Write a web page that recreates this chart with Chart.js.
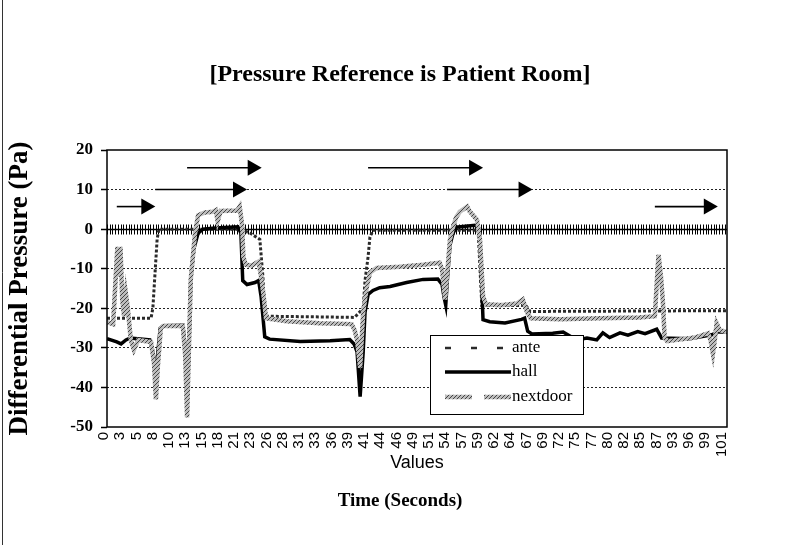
<!DOCTYPE html>
<html>
<head>
<meta charset="utf-8">
<title>Pressure Reference is Patient Room</title>
<script src="https://cdn.jsdelivr.net/npm/chart.js@4.4.0/dist/chart.umd.min.js"></script>
<style>
  html, body { margin: 0; padding: 0; background: #fff; }
  #wrap { width: 800px; height: 545px; }
</style>
</head>
<body>
<div id="wrap"><canvas id="pressureChart" width="800" height="545"></canvas></div>
<script>
// category labels printed under the plot, evenly spaced
const timeLabels = ["0", "3", "5", "8", "10", "13", "15", "18", "21", "23", "26", "28", "31",
  "33", "36", "39", "41", "44", "46", "49", "51", "54", "57", "59", "62", "64", "67", "69",
  "72", "75", "77", "80", "82", "85", "87", "93", "96", "99", "101"];
const yTicks = [20, 10, 0, -10, -20, -30, -40, -50];

// traces: time (s, on the label scale) and pressure (Pa)
const anteT = [0, 7.2, 7.5, 7.7, 7.9, 8.2, 8.5, 21.7, 23.4, 25.0, 25.5, 25.8, 40.5, 41.9,
  42.2, 42.7, 43.0, 43.5, 60.7, 61.3, 68.5, 69.2, 101.4];
const anteP = [-22.5, -22.5, -20, -15, -10, -2.5, 0, 0, -1, -2.6, -12, -22, -22.3, -20,
  -13, -7, -2, -0.3, -0.3, -19.3, -19.3, -20.8, -20.6];

const hallT = [0, 1.6, 2.3, 3.1, 3.8, 7.0, 7.5, 7.9, 8.2, 8.7, 9.2, 12.4, 12.8, 13.1, 13.4,
  13.7, 14.2, 14.9, 15.7, 17.7, 21.4, 21.9, 22.2, 22.9, 24.2, 24.8, 25.2, 25.8, 26.6, 31.6,
  36.5, 39.7, 40.4, 40.9, 41.4, 41.9, 42.2, 42.7, 43.5, 44.6, 46.3, 49.0, 51.7, 54.1, 54.8,
  55.1, 55.4, 55.7, 56.1, 56.6, 57.1, 60.2, 60.7, 61.0, 61.5, 62.6, 65.1, 67.8, 68.3, 68.8,
  69.5, 72.9, 74.6, 76.8, 78.5, 80.1, 81.1, 82.2, 83.9, 85.2, 86.8, 88.0, 89.9, 90.7, 95.3,
  98.9, 99.9, 101.4];
const hallP = [-27.7, -28.5, -29, -28, -27.5, -28, -31, -35.5, -33, -25, -24.4, -24.3, -30,
  -44, -30, -12.7, -5, -1, 0, 0.3, 0.6, -1, -13, -14, -13.5, -13, -17, -27.2, -27.8, -28.4,
  -28.2, -27.9, -29, -31, -42.3, -31, -21, -16.5, -15.5, -14.8, -14.5, -13.5, -12.7, -12.6,
  -14, -17, -19.2, -12, -4, -1, 0.5, 1, 0.5, -2.6, -22.9, -23.4, -23.7, -22.8, -22.5, -25.8,
  -26.5, -26.3, -26, -28, -27.5, -28, -26.2, -27.4, -26.2, -26.8, -25.9, -26.4, -25.3, -27.5,
  -27.7, -26.7, -26, -26];

const nextdoorT = [0, 1.0, 1.5, 1.7, 2.0, 2.2, 2.5, 2.8, 3.1, 3.4, 3.9, 4.4, 5.1, 7.2, 7.7,
  8.0, 8.3, 8.8, 9.2, 12.4, 12.8, 13.1, 13.4, 13.7, 14.4, 14.9, 16.0, 17.3, 17.8, 18.1, 18.6,
  21.3, 21.7, 22.1, 22.3, 22.7, 23.7, 24.8, 25.3, 25.7, 26.0, 29.4, 34.8, 40.0, 40.5, 40.9,
  41.4, 41.9, 42.5, 43.0, 44.1, 47.9, 51.7, 54.4, 54.8, 55.3, 55.6, 56.1, 56.6, 57.1, 57.7,
  58.9, 59.3, 60.5, 61.0, 61.5, 62.0, 64.3, 67.0, 68.0, 68.7, 69.3, 74.1, 80.6, 87.1, 89.6,
  89.9, 90.2, 90.6, 90.9, 91.2, 91.6, 96.1, 98.3, 98.7, 99.1, 99.4, 99.7, 100.2, 101.4];
const nextdoorP = [-23.5, -24, -10, -4.5, -12, -4.5, -18, -22, -16.5, -20, -28, -30.5, -28,
  -28.5, -34, -43, -35, -25, -24.5, -24.5, -32, -47.6, -30, -12.7, -1, 3.5, 4.2, 4.4, 4.8, 2,
  4.6, 4.7, 5.7, 1, -7, -9, -9.2, -8.2, -13, -18, -22.5, -23.3, -23.8, -24, -25.5, -28, -35,
  -21, -14.5, -11, -9.8, -9.5, -9, -8.5, -10.2, -17.8, -12, -2.6, 0.6, 3, 4.4, 5.7, 4.5, 2.4,
  -2.6, -17, -19, -19.2, -18.8, -17.8, -21, -22.5, -22.8, -22.5, -22.3, -22, -14, -6.5, -12,
  -18, -27.5, -28.3, -27.4, -26.3, -28, -31.5, -28, -23.8, -25.5, -26];

// arrows drawn over the plot: start time, end time, level (Pa)
const arrowFrom = [1.6, 7.9, 13.1, 42.7, 55.6, 89.6];
const arrowTo = [7.9, 22.9, 25.3, 61.5, 69.6, 99.9];
const arrowLevel = [5.7, 10, 15.5, 15.5, 10, 5.7];

const SERIF = "'Liberation Serif', 'Times New Roman', serif";
const SANS = "'Liberation Sans', Arial, sans-serif";
const X_MAX = 101.4;
const LABEL_STEP = 101 / (timeLabels.length - 1);

function toPoints(ts, ps) {
  return ts.map((t, i) => ({ x: t, y: ps[i] }));
}

// grey speckled stroke like the printed "nextdoor" line
function hatchPattern() {
  const c = document.createElement("canvas");
  c.width = 4;
  c.height = 4;
  const g = c.getContext("2d");
  g.fillStyle = "#bdbdbd";
  g.fillRect(0, 0, 4, 4);
  g.fillStyle = "#444";
  for (let i = 0; i < 4; i++) g.fillRect(i, 3 - i, 1, 1);
  return g.createPattern(c, "repeat");
}
const hatch = hatchPattern();

// plot frame and the category axis crossing at 0 with its dense tick marks
const framePlugin = {
  id: "frame",
  beforeDatasetsDraw(chart) {
    const { ctx, chartArea: a, scales } = chart;
    const y0 = Math.round(scales.y.getPixelForValue(0)) + 0.5;
    ctx.save();
    ctx.strokeStyle = "#000";
    ctx.lineWidth = 1.5;
    ctx.beginPath();
    ctx.moveTo(a.left, y0);
    ctx.lineTo(a.right, y0);
    ctx.stroke();
    ctx.lineWidth = 1;
    ctx.beginPath();
    for (let t = 0; t <= X_MAX; t += LABEL_STEP / 6) {
      const x = Math.round(scales.x.getPixelForValue(t)) + 0.5;
      ctx.moveTo(x, y0 - 5);
      ctx.lineTo(x, y0 + 5);
    }
    ctx.stroke();
    ctx.restore();
  },
  afterDatasetsDraw(chart) {
    const { ctx, chartArea: a } = chart;
    ctx.save();
    ctx.strokeStyle = "#000";
    ctx.lineWidth = 1.5;
    ctx.strokeRect(a.left, a.top, a.right - a.left, a.bottom - a.top);
    ctx.restore();
  },
  afterDraw(chart) {
    // edge of the scanned chart object on the left
    const { ctx, height } = chart;
    ctx.save();
    ctx.strokeStyle = "#333";
    ctx.lineWidth = 1;
    ctx.beginPath();
    ctx.moveTo(2.5, 0);
    ctx.lineTo(2.5, height);
    ctx.stroke();
    ctx.restore();
  }
};

const arrowPlugin = {
  id: "arrows",
  afterDatasetsDraw(chart) {
    const { ctx, scales } = chart;
    ctx.save();
    ctx.strokeStyle = "#000";
    ctx.fillStyle = "#000";
    ctx.lineWidth = 1.6;
    arrowFrom.forEach((t0, i) => {
      const x0 = scales.x.getPixelForValue(t0);
      const x1 = scales.x.getPixelForValue(arrowTo[i]);
      const y = scales.y.getPixelForValue(arrowLevel[i]);
      ctx.beginPath();
      ctx.moveTo(x0, y);
      ctx.lineTo(x1 - 13, y);
      ctx.stroke();
      ctx.beginPath();
      ctx.moveTo(x1, y);
      ctx.lineTo(x1 - 14, y - 8);
      ctx.lineTo(x1 - 14, y + 8);
      ctx.closePath();
      ctx.fill();
    });
    ctx.restore();
  }
};

// boxed legend sitting inside the plot, as in the printout
const boxLegendPlugin = {
  id: "boxLegend",
  afterDraw(chart) {
    const { ctx } = chart;
    const left = 430.5, top = 335.5, w = 153, h = 79;
    ctx.save();
    ctx.fillStyle = "#fff";
    ctx.fillRect(left, top, w, h);
    ctx.strokeStyle = "#000";
    ctx.lineWidth = 1;
    ctx.strokeRect(left, top, w, h);
    ctx.font = "17px " + SERIF;
    ctx.textBaseline = "middle";
    const rows = [348, 372, 397];
    chart.data.datasets.forEach((ds, i) => {
      const y = rows[i];
      ctx.strokeStyle = ds.borderColor;
      ctx.lineWidth = ds.borderWidth;
      if (i === 0) {
        ctx.lineWidth = 2.5;
        [448, 474, 500].forEach(x => {
          ctx.beginPath();
          ctx.moveTo(x - 3, y);
          ctx.lineTo(x + 3, y);
          ctx.stroke();
        });
      } else if (i === 2) {
        ctx.beginPath();
        ctx.moveTo(445, y);
        ctx.lineTo(472, y);
        ctx.moveTo(484, y);
        ctx.lineTo(511, y);
        ctx.stroke();
      } else {
        ctx.beginPath();
        ctx.moveTo(445, y);
        ctx.lineTo(511, y);
        ctx.stroke();
      }
      ctx.fillStyle = "#000";
      ctx.fillText(ds.label, 512, y);
    });
    ctx.restore();
  }
};

const ctx = document.getElementById("pressureChart").getContext("2d");
const chart = new Chart(ctx, {
  type: "line",
  data: {
    datasets: [
      {
        label: "ante",
        data: toPoints(anteT, anteP),
        borderColor: "#2a2a2a",
        borderWidth: 3,
        borderDash: [3, 2],
        pointRadius: 0,
        order: 3
      },
      {
        label: "hall",
        data: toPoints(hallT, hallP),
        borderColor: "#000",
        borderWidth: 3.5,
        pointRadius: 0,
        order: 2
      },
      {
        label: "nextdoor",
        data: toPoints(nextdoorT, nextdoorP),
        borderColor: hatch,
        borderWidth: 4.5,
        pointRadius: 0,
        order: 1
      }
    ]
  },
  options: {
    responsive: false,
    animation: false,
    events: [],
    layout: { padding: 0 },
    plugins: {
      legend: { display: false },
      tooltip: { enabled: false },
      title: {
        display: true,
        text: "[Pressure Reference is Patient Room]",
        color: "#000",
        font: { family: SERIF, size: 24, weight: "bold" },
        padding: { top: 60, bottom: 61.2 }
      },
      subtitle: {
        display: true,
        position: "bottom",
        text: "Time (Seconds)",
        color: "#000",
        font: { family: SERIF, size: 19, weight: "bold" },
        padding: { top: 0, bottom: 33 }
      }
    },
    scales: {
      x: {
        type: "linear",
        min: 0,
        max: X_MAX,
        afterBuildTicks(scale) {
          scale.ticks = timeLabels.map((l, i) => ({ value: i * LABEL_STEP }));
        },
        afterFit(scale) {
          scale.height = 62.2;
        },
        grid: { display: false, drawTicks: false },
        border: { display: false },
        ticks: {
          autoSkip: false,
          minRotation: 90,
          maxRotation: 90,
          padding: 5,
          labelOffset: -3,
          color: "#000",
          font: { family: SANS, size: 15 },
          callback: (v, i) => timeLabels[i]
        },
        title: {
          display: true,
          text: "Values",
          color: "#000",
          font: { family: SANS, size: 18 },
          padding: { top: 0, bottom: 15 }
        }
      },
      y: {
        min: -50,
        max: 20,
        afterBuildTicks(scale) {
          scale.ticks = yTicks.map(v => ({ value: v }));
        },
        afterFit(scale) {
          scale.width = 107;
        },
        grid: {
          color: c => (c.tick && [10, -10, -20, -30, -40].includes(c.tick.value)) ? "#222" : "rgba(0,0,0,0)",
          lineWidth: 1,
          tickLength: 6,
          tickColor: "#000",
          tickWidth: 1.5
        },
        border: { display: false, dash: [2, 2] },
        ticks: {
          padding: 8,
          color: "#000",
          font: { family: SERIF, size: 17, weight: "bold" }
        },
        title: {
          display: true,
          text: "Differential Pressure (Pa)",
          color: "#000",
          font: { family: SERIF, size: 27, weight: "bold" },
          padding: { top: 4, bottom: 0 }
        }
      },
      // empty strip on the right so the plot ends where the printout's does
      yRight: {
        position: "right",
        afterFit(scale) {
          scale.width = 73;
        },
        grid: { display: false, drawTicks: false },
        border: { display: false },
        ticks: { display: false }
      }
    }
  },
  plugins: [framePlugin, arrowPlugin, boxLegendPlugin]
});
</script>
</body>
</html>
